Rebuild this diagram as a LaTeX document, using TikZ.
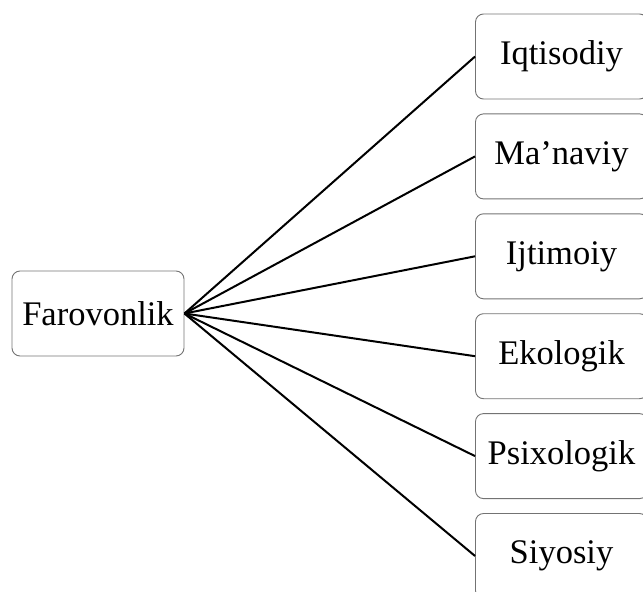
\documentclass[tikz,border=0pt]{standalone}
\usepackage{fontspec}
\setmainfont{Liberation Serif}
\usetikzlibrary{positioning}

\begin{document}
\begin{tikzpicture}[
    x=1pt, y=-1pt,
    node distance=14pt,
    box/.style={draw=black!55, line width=0.9pt, rounded corners=8pt,
                minimum width=172pt, minimum height=85pt, inner sep=0pt,
                align=center, font=\fontsize{34.5}{40}\selectfont},
    link/.style={line width=2pt, black},
  ]
  \useasboundingbox (0,0) rectangle (643,592);

  % ---- Root ----
  \node[box] (far) at (98,313.5) {Farovonlik};

  % ---- Kinds ----
  \node[box] (iqt) at (561.5,56.5) {Iqtisodiy};
  \node[box, below=of iqt] (man) {Ma’naviy};
  \node[box, below=of man] (ijt) {Ijtimoiy};
  \node[box, below=of ijt] (eko) {Ekologik};
  \node[box, below=of eko] (psi) {Psixologik};
  \node[box, below=of psi] (siy) {Siyosiy};

  % ---- Links ----
  \foreach \k in {iqt,man,ijt,eko,psi,siy}
    \draw[link] (far.east) -- (\k.west);

\end{tikzpicture}
\end{document}
